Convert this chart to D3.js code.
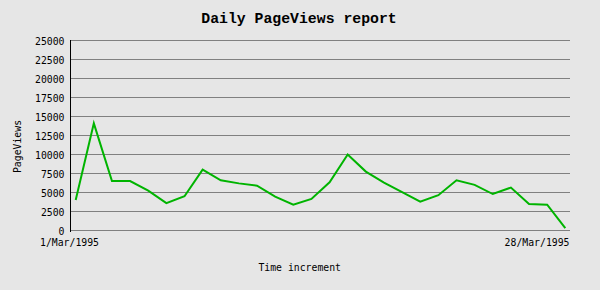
<!DOCTYPE html>
<html><head><meta charset="utf-8">
<script src="https://cdn.jsdelivr.net/npm/d3@7"></script>
<style>
html,body{margin:0;padding:0;background:#e6e6e6;}
svg{display:block;}
text{font-family:"DejaVu Sans Mono","Liberation Mono",monospace;fill:#000;}
</style></head>
<body>
<script>
const title = "Daily PageViews report";
const xTitle = "Time increment";
const yTitle = "PageViews";
const days = d3.range(1, 29).map(d => d + "/Mar/1995");
const pageViews = [4000, 14100, 6500, 6500, 5250, 3600, 4500, 8000, 6600, 6200, 5900, 4450, 3400, 4150,
                   6350, 10000, 7750, 6300, 5050, 3800, 4650, 6600, 6000, 4800, 5650, 3500, 3400, 300];
const yTicks = [0, 2500, 5000, 7500, 10000, 12500, 15000, 17500, 20000, 22500, 25000];
const xTickLabels = [days[0], days[days.length - 1]];

const W = 600, H = 290;
const svg = d3.select("body").append("svg").attr("width", W).attr("height", H);
svg.append("rect").attr("width", W).attr("height", H).attr("fill", "#e6e6e6");

const plotL = 70, plotR = 570;
const x = d3.scalePoint().domain(days).range([75.7, 565.3]);
const y = d3.scaleLinear().domain([0, 25000]).range([230.5, 40.5]);

// gridlines
svg.append("g").selectAll("line").data(yTicks).join("line")
  .attr("x1", plotL).attr("x2", plotR)
  .attr("y1", d => y(d)).attr("y2", d => y(d))
  .attr("stroke", "#808080").attr("stroke-width", 1).attr("shape-rendering", "crispEdges");

// y axis labels
svg.append("g").selectAll("text").data(yTicks).join("text")
  .attr("x", 64.5).attr("y", d => y(d) + 4)
  .attr("text-anchor", "end").attr("font-size", "9.8px")
  .text(d => d);

// left axis line
svg.append("line").attr("x1", plotL + 0.5).attr("x2", plotL + 0.5)
  .attr("y1", y(25000) - 0.5).attr("y2", 232)
  .attr("stroke", "#000").attr("stroke-width", 1).attr("shape-rendering", "crispEdges");

// x tick labels
svg.append("text").attr("x", plotL - 0.5).attr("y", 246).attr("text-anchor", "middle")
  .attr("font-size", "9.8px").text(xTickLabels[0]);
svg.append("text").attr("x", plotR - 0.5).attr("y", 246).attr("text-anchor", "end")
  .attr("font-size", "9.8px").text(xTickLabels[1]);

// line
const line = d3.line().x((d, i) => x(days[i])).y(d => y(d));
svg.append("path").datum(pageViews).attr("d", line)
  .attr("fill", "none").attr("stroke", "#00b400").attr("stroke-width", 2)
  .attr("stroke-linejoin", "miter");

// titles
svg.append("text").attr("x", 299).attr("y", 23).attr("text-anchor", "middle")
  .style("font-family", "'Liberation Mono', monospace")
  .attr("font-size", "14.8px").attr("font-weight", "bold").text(title);
svg.append("text").attr("x", 299.7).attr("y", 270.5).attr("text-anchor", "middle")
  .attr("font-size", "9.8px").text(xTitle);
svg.append("text").attr("transform", "translate(20.5,146.5) rotate(-90)")
  .attr("text-anchor", "middle").attr("font-size", "9.8px").text(yTitle);
</script>
</body></html>
